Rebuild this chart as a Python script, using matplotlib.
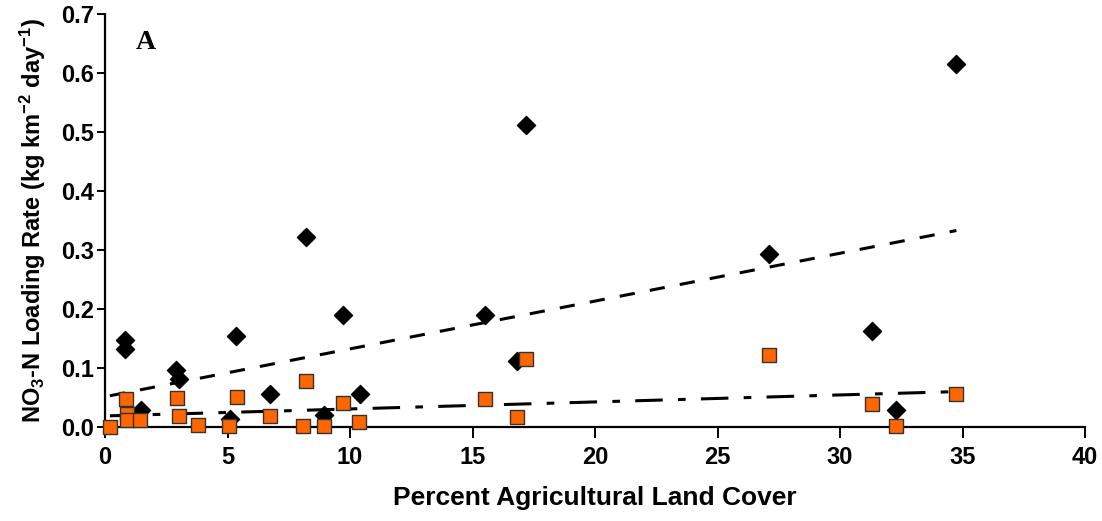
import matplotlib
matplotlib.use("Agg")
import matplotlib.pyplot as plt

# Percent agricultural land cover vs NO3-N loading rate
diamond_x = [0.8, 0.8, 1.45, 2.9, 3.0, 5.35, 5.1, 6.75, 8.2, 8.95, 9.7, 10.4,
             15.5, 16.8, 17.2, 27.1, 31.3, 32.3, 34.75]
diamond_y = [0.147, 0.133, 0.029, 0.097, 0.082, 0.154, 0.014, 0.056, 0.322, 0.020,
             0.190, 0.056, 0.190, 0.112, 0.512, 0.293, 0.162, 0.028, 0.615]

square_x = [0.2, 0.86, 0.9, 0.9, 1.44, 2.92, 3.03, 3.78, 5.37, 5.07, 6.73, 8.2,
            8.09, 8.95, 9.7, 10.38, 15.5, 16.8, 17.2, 27.1, 31.3, 32.3, 34.75]
square_y = [0.000, 0.047, 0.022, 0.012, 0.012, 0.049, 0.019, 0.003, 0.051, 0.001,
            0.019, 0.078, 0.001, 0.001, 0.040, 0.009, 0.047, 0.017, 0.115, 0.122,
            0.039, 0.001, 0.056]

# trend lines (end points)
trend_x = [0.2, 34.75]
trend_diamond = [0.053, 0.333]
trend_square = [0.019, 0.060]

fig = plt.figure(figsize=(11.02, 5.21), dpi=100)
ax = fig.add_axes([0.0953, 0.1804, 0.8893, 0.7927])

ax.plot(trend_x, trend_diamond, color="black", linewidth=2.2, dashes=(5, 5))
ax.plot(trend_x, trend_square, color="black", linewidth=2.2, dashes=(9, 5, 2.5, 5))

ax.scatter(diamond_x, diamond_y, marker="D", s=85, color="black", zorder=3)
ax.scatter(square_x, square_y, marker="s", s=115, color="#FF6600",
           edgecolor="#333333", linewidth=1.0, zorder=4, clip_on=False)

ax.set_xlim(0, 40)
ax.set_ylim(0, 0.7)
ax.set_xticks(range(0, 41, 5))
ax.set_yticks([i / 10 for i in range(8)])
ax.set_yticklabels([f"{i / 10:.1f}" for i in range(8)])

for side in ["top", "right"]:
    ax.spines[side].set_visible(False)
for side in ["left", "bottom"]:
    ax.spines[side].set_linewidth(1.6)
ax.tick_params(axis="both", direction="out", length=6, width=1.4, labelsize=17)
ax.tick_params(axis="x", pad=6, length=8)
ax.tick_params(axis="y", pad=2)
for lbl in ax.get_xticklabels() + ax.get_yticklabels():
    lbl.set_fontweight("bold")
    lbl.set_fontfamily("Liberation Sans")

plt.rcParams["mathtext.default"] = "regular"
ax.set_xlabel("Percent Agricultural Land Cover", fontsize=19, fontweight="bold",
              family="Liberation Sans", labelpad=12)
ax.set_ylabel(r"NO$_3$-N Loading Rate (kg km$^{-2}$ day$^{-1}$)", fontsize=17,
              fontweight="bold", family="Liberation Sans", labelpad=9)

ax.text(0.031, 0.962, "A", transform=ax.transAxes, fontsize=20, fontweight="bold",
        family="Liberation Serif", va="top", ha="left")

fig.savefig("out.png", dpi=100)
